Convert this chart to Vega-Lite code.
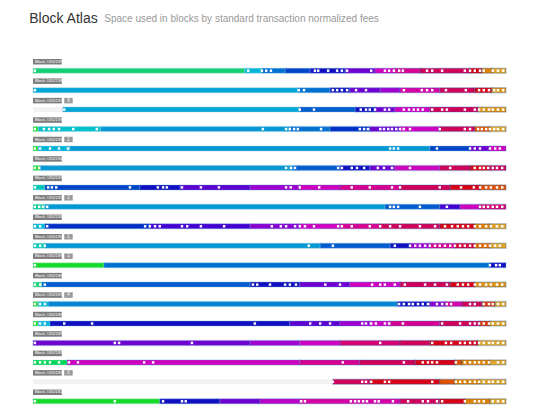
{
"$schema": "https://vega.github.io/schema/vega-lite/v6.json",
"width": 473, "height": 350,
"autosize": {"type": "none"},
"padding": {"left": 33, "top": 61, "right": 34, "bottom": 0},
"background": "white",
"config": {"view": {"stroke": null}, "font": "Liberation Sans"},
"title": {"text": "Block Atlas", "subtitle": "\u200b\u00a0\u00a0\u00a0\u00a0\u00a0\u00a0\u00a0\u00a0\u00a0\u00a0\u00a0\u00a0\u00a0\u00a0\u00a0\u00a0\u00a0\u00a0\u00a0\u00a0\u00a0\u00a0\u00a0\u00a0\u00a0\u00a0\u00a0Space used in blocks by standard transaction normalized fees", "anchor": "start", "fontSize": 14, "fontWeight": "normal", "color": "#333333", "subtitleFontSize": 10, "subtitleColor": "#999999", "subtitlePadding": -12, "offset": 33, "dx": -3},
"datasets": {
"gaps": [{"b": "452197", "s": 0, "e": 63}, {"b": "452183", "s": 0, "e": 634}],
"seg": [
{"b":"452199","s":0,"e":448,"l":1},{"b":"452199","s":448,"e":484,"l":3},{"b":"452199","s":484,"e":533,"l":5},{"b":"452199","s":533,"e":586,"l":6},{"b":"452199","s":586,"e":660,"l":7},{"b":"452199","s":660,"e":723,"l":9},{"b":"452199","s":723,"e":765,"l":11},{"b":"452199","s":765,"e":818,"l":12},{"b":"452199","s":818,"e":924,"l":13},{"b":"452199","s":924,"e":949,"l":14},{"b":"452199","s":949,"e":970,"l":16},{"b":"452199","s":970,"e":1000,"l":17},
{"b":"452198","s":0,"e":560,"l":3.5},{"b":"452198","s":560,"e":628,"l":5},{"b":"452198","s":628,"e":670,"l":7},{"b":"452198","s":670,"e":734,"l":9},{"b":"452198","s":734,"e":776,"l":10},{"b":"452198","s":776,"e":860,"l":11.5},{"b":"452198","s":860,"e":934,"l":13},{"b":"452198","s":934,"e":970,"l":14},{"b":"452198","s":970,"e":1000,"l":16.5},
{"b":"452197","s":63,"e":564,"l":3.5},{"b":"452197","s":564,"e":681,"l":5.5},{"b":"452197","s":681,"e":723,"l":7},{"b":"452197","s":723,"e":765,"l":9},{"b":"452197","s":765,"e":839,"l":11},{"b":"452197","s":839,"e":941,"l":13},{"b":"452197","s":941,"e":1000,"l":16.5},
{"b":"452196","s":0,"e":11,"l":0},{"b":"452196","s":11,"e":143,"l":2.5},{"b":"452196","s":143,"e":543,"l":4},{"b":"452196","s":543,"e":628,"l":5},{"b":"452196","s":628,"e":712,"l":6.5},{"b":"452196","s":712,"e":776,"l":9},{"b":"452196","s":776,"e":860,"l":11},{"b":"452196","s":860,"e":934,"l":13},{"b":"452196","s":934,"e":966,"l":15},{"b":"452196","s":966,"e":1000,"l":17},
{"b":"452195","s":0,"e":11,"l":0},{"b":"452195","s":11,"e":78,"l":3},{"b":"452195","s":78,"e":839,"l":4},{"b":"452195","s":839,"e":924,"l":6},{"b":"452195","s":924,"e":966,"l":9},{"b":"452195","s":966,"e":1000,"l":11},
{"b":"452194","s":0,"e":15,"l":0},{"b":"452194","s":15,"e":550,"l":4},{"b":"452194","s":550,"e":649,"l":5.5},{"b":"452194","s":649,"e":712,"l":7},{"b":"452194","s":712,"e":765,"l":9},{"b":"452194","s":765,"e":860,"l":11},{"b":"452194","s":860,"e":924,"l":13},{"b":"452194","s":924,"e":966,"l":14},{"b":"452194","s":966,"e":1000,"l":13},
{"b":"452193","s":0,"e":25,"l":2},{"b":"452193","s":25,"e":226,"l":6},{"b":"452193","s":226,"e":311,"l":7},{"b":"452193","s":311,"e":459,"l":8.5},{"b":"452193","s":459,"e":564,"l":10},{"b":"452193","s":564,"e":649,"l":11},{"b":"452193","s":649,"e":776,"l":12},{"b":"452193","s":776,"e":882,"l":13},{"b":"452193","s":882,"e":945,"l":14},{"b":"452193","s":945,"e":1000,"l":15},
{"b":"452192","s":0,"e":25,"l":1.5},{"b":"452192","s":25,"e":744,"l":4},{"b":"452192","s":744,"e":860,"l":5.5},{"b":"452192","s":860,"e":903,"l":8},{"b":"452192","s":903,"e":945,"l":11},{"b":"452192","s":945,"e":1000,"l":12.5},
{"b":"452191","s":0,"e":25,"l":3},{"b":"452191","s":25,"e":247,"l":6.5},{"b":"452191","s":247,"e":459,"l":8},{"b":"452191","s":459,"e":564,"l":9.5},{"b":"452191","s":564,"e":649,"l":11},{"b":"452191","s":649,"e":734,"l":12},{"b":"452191","s":734,"e":860,"l":13},{"b":"452191","s":860,"e":934,"l":14},{"b":"452191","s":934,"e":966,"l":16},{"b":"452191","s":966,"e":1000,"l":17},
{"b":"452190","s":0,"e":25,"l":2},{"b":"452190","s":25,"e":607,"l":4},{"b":"452190","s":607,"e":755,"l":5.5},{"b":"452190","s":755,"e":797,"l":7},{"b":"452190","s":797,"e":839,"l":10},{"b":"452190","s":839,"e":892,"l":12},{"b":"452190","s":892,"e":934,"l":13.5},{"b":"452190","s":934,"e":966,"l":15.5},{"b":"452190","s":966,"e":1000,"l":17},
{"b":"452189","s":0,"e":150,"l":0},{"b":"452189","s":150,"e":966,"l":5},{"b":"452189","s":966,"e":1000,"l":7},
{"b":"452188","s":0,"e":19,"l":1},{"b":"452188","s":19,"e":459,"l":5.5},{"b":"452188","s":459,"e":564,"l":7},{"b":"452188","s":564,"e":670,"l":9},{"b":"452188","s":670,"e":776,"l":11},{"b":"452188","s":776,"e":882,"l":13},{"b":"452188","s":882,"e":934,"l":14},{"b":"452188","s":934,"e":1000,"l":16.5},
{"b":"452187","s":0,"e":11,"l":0},{"b":"452187","s":11,"e":32,"l":3},{"b":"452187","s":32,"e":770,"l":4.5},{"b":"452187","s":770,"e":839,"l":7},{"b":"452187","s":839,"e":871,"l":9.5},{"b":"452187","s":871,"e":907,"l":11.5},{"b":"452187","s":907,"e":949,"l":13},{"b":"452187","s":949,"e":977,"l":14.5},{"b":"452187","s":977,"e":1000,"l":17},
{"b":"452186","s":0,"e":11,"l":0},{"b":"452186","s":11,"e":36,"l":3},{"b":"452186","s":36,"e":543,"l":7},{"b":"452186","s":543,"e":649,"l":8.5},{"b":"452186","s":649,"e":712,"l":10},{"b":"452186","s":712,"e":755,"l":11},{"b":"452186","s":755,"e":860,"l":12},{"b":"452186","s":860,"e":945,"l":13},{"b":"452186","s":945,"e":966,"l":14.5},{"b":"452186","s":966,"e":1000,"l":17},
{"b":"452185","s":0,"e":459,"l":9},{"b":"452185","s":459,"e":564,"l":10},{"b":"452185","s":564,"e":649,"l":11},{"b":"452185","s":649,"e":776,"l":12.5},{"b":"452185","s":776,"e":839,"l":13},{"b":"452185","s":839,"e":941,"l":14},{"b":"452185","s":941,"e":1000,"l":17},
{"b":"452184","s":0,"e":72,"l":0.5},{"b":"452184","s":72,"e":564,"l":11},{"b":"452184","s":564,"e":691,"l":12},{"b":"452184","s":691,"e":808,"l":13},{"b":"452184","s":808,"e":892,"l":14},{"b":"452184","s":892,"e":907,"l":15},{"b":"452184","s":907,"e":966,"l":16},{"b":"452184","s":966,"e":1000,"l":17},
{"b":"452183","s":634,"e":712,"l":13},{"b":"452183","s":712,"e":860,"l":14},{"b":"452183","s":860,"e":892,"l":15},{"b":"452183","s":892,"e":945,"l":16},{"b":"452183","s":945,"e":1000,"l":17},
{"b":"452182","s":0,"e":268,"l":0},{"b":"452182","s":268,"e":395,"l":7},{"b":"452182","s":395,"e":480,"l":9},{"b":"452182","s":480,"e":564,"l":10.5},{"b":"452182","s":564,"e":776,"l":11.5},{"b":"452182","s":776,"e":860,"l":13},{"b":"452182","s":860,"e":913,"l":14},{"b":"452182","s":913,"e":966,"l":16},{"b":"452182","s":966,"e":1000,"l":17}
],
"dots": [
{"b":"452199","v":4},{"b":"452199","v":455},{"b":"452199","v":484},{"b":"452199","v":493},{"b":"452199","v":503},{"b":"452199","v":596},{"b":"452199","v":603},{"b":"452199","v":624},{"b":"452199","v":643},{"b":"452199","v":653},{"b":"452199","v":664},{"b":"452199","v":715},{"b":"452199","v":744},{"b":"452199","v":753},{"b":"452199","v":763},{"b":"452199","v":774},{"b":"452199","v":782},{"b":"452199","v":833},{"b":"452199","v":844},{"b":"452199","v":865},{"b":"452199","v":913},{"b":"452199","v":924},{"b":"452199","v":934},{"b":"452199","v":945},{"b":"452199","v":953},{"b":"452199","v":972},{"b":"452199","v":983},{"b":"452199","v":994},
{"b":"452198","v":4},{"b":"452198","v":562},{"b":"452198","v":573},{"b":"452198","v":634},{"b":"452198","v":643},{"b":"452198","v":653},{"b":"452198","v":664},{"b":"452198","v":683},{"b":"452198","v":704},{"b":"452198","v":784},{"b":"452198","v":822},{"b":"452198","v":833},{"b":"452198","v":844},{"b":"452198","v":873},{"b":"452198","v":915},{"b":"452198","v":943},{"b":"452198","v":953},{"b":"452198","v":964},{"b":"452198","v":975},{"b":"452198","v":983},{"b":"452198","v":994},
{"b":"452197","v":66},{"b":"452197","v":564},{"b":"452197","v":594},{"b":"452197","v":693},{"b":"452197","v":704},{"b":"452197","v":712},{"b":"452197","v":723},{"b":"452197","v":744},{"b":"452197","v":753},{"b":"452197","v":784},{"b":"452197","v":795},{"b":"452197","v":805},{"b":"452197","v":814},{"b":"452197","v":824},{"b":"452197","v":844},{"b":"452197","v":865},{"b":"452197","v":875},{"b":"452197","v":913},{"b":"452197","v":934},{"b":"452197","v":943},{"b":"452197","v":953},{"b":"452197","v":964},{"b":"452197","v":972},{"b":"452197","v":983},{"b":"452197","v":994},
{"b":"452196","v":4},{"b":"452196","v":23},{"b":"452196","v":34},{"b":"452196","v":44},{"b":"452196","v":55},{"b":"452196","v":85},{"b":"452196","v":135},{"b":"452196","v":486},{"b":"452196","v":535},{"b":"452196","v":543},{"b":"452196","v":552},{"b":"452196","v":560},{"b":"452196","v":609},{"b":"452196","v":691},{"b":"452196","v":700},{"b":"452196","v":708},{"b":"452196","v":734},{"b":"452196","v":742},{"b":"452196","v":751},{"b":"452196","v":759},{"b":"452196","v":768},{"b":"452196","v":776},{"b":"452196","v":784},{"b":"452196","v":797},{"b":"452196","v":860},{"b":"452196","v":913},{"b":"452196","v":924},{"b":"452196","v":941},{"b":"452196","v":949},{"b":"452196","v":958},{"b":"452196","v":966},{"b":"452196","v":975},{"b":"452196","v":983},{"b":"452196","v":994},
{"b":"452195","v":4},{"b":"452195","v":15},{"b":"452195","v":36},{"b":"452195","v":55},{"b":"452195","v":74},{"b":"452195","v":755},{"b":"452195","v":763},{"b":"452195","v":772},{"b":"452195","v":854},{"b":"452195","v":924},{"b":"452195","v":934},{"b":"452195","v":945},{"b":"452195","v":966},{"b":"452195","v":977},{"b":"452195","v":987},
{"b":"452194","v":4},{"b":"452194","v":13},{"b":"452194","v":535},{"b":"452194","v":545},{"b":"452194","v":554},{"b":"452194","v":645},{"b":"452194","v":653},{"b":"452194","v":674},{"b":"452194","v":685},{"b":"452194","v":700},{"b":"452194","v":729},{"b":"452194","v":742},{"b":"452194","v":759},{"b":"452194","v":797},{"b":"452194","v":882},{"b":"452194","v":934},{"b":"452194","v":945},{"b":"452194","v":953},{"b":"452194","v":962},{"b":"452194","v":972},{"b":"452194","v":981},{"b":"452194","v":992},
{"b":"452193","v":4},{"b":"452193","v":32},{"b":"452193","v":40},{"b":"452193","v":49},{"b":"452193","v":205},{"b":"452193","v":264},{"b":"452193","v":275},{"b":"452193","v":283},{"b":"452193","v":315},{"b":"452193","v":355},{"b":"452193","v":393},{"b":"452193","v":535},{"b":"452193","v":545},{"b":"452193","v":564},{"b":"452193","v":605},{"b":"452193","v":674},{"b":"452193","v":712},{"b":"452193","v":759},{"b":"452193","v":776},{"b":"452193","v":860},{"b":"452193","v":905},{"b":"452193","v":932},{"b":"452193","v":945},{"b":"452193","v":958},{"b":"452193","v":968},{"b":"452193","v":981},{"b":"452193","v":992},
{"b":"452192","v":4},{"b":"452192","v":13},{"b":"452192","v":21},{"b":"452192","v":30},{"b":"452192","v":755},{"b":"452192","v":763},{"b":"452192","v":772},{"b":"452192","v":818},{"b":"452192","v":875},{"b":"452192","v":945},{"b":"452192","v":953},{"b":"452192","v":962},{"b":"452192","v":972},{"b":"452192","v":981},{"b":"452192","v":992},
{"b":"452191","v":4},{"b":"452191","v":15},{"b":"452191","v":30},{"b":"452191","v":237},{"b":"452191","v":247},{"b":"452191","v":258},{"b":"452191","v":268},{"b":"452191","v":315},{"b":"452191","v":326},{"b":"452191","v":355},{"b":"452191","v":404},{"b":"452191","v":505},{"b":"452191","v":524},{"b":"452191","v":535},{"b":"452191","v":554},{"b":"452191","v":564},{"b":"452191","v":575},{"b":"452191","v":594},{"b":"452191","v":645},{"b":"452191","v":653},{"b":"452191","v":674},{"b":"452191","v":712},{"b":"452191","v":734},{"b":"452191","v":755},{"b":"452191","v":776},{"b":"452191","v":818},{"b":"452191","v":850},{"b":"452191","v":871},{"b":"452191","v":886},{"b":"452191","v":898},{"b":"452191","v":909},{"b":"452191","v":920},{"b":"452191","v":934},{"b":"452191","v":945},{"b":"452191","v":958},{"b":"452191","v":968},{"b":"452191","v":981},{"b":"452191","v":992},
{"b":"452190","v":4},{"b":"452190","v":15},{"b":"452190","v":25},{"b":"452190","v":583},{"b":"452190","v":634},{"b":"452190","v":765},{"b":"452190","v":797},{"b":"452190","v":808},{"b":"452190","v":818},{"b":"452190","v":829},{"b":"452190","v":839},{"b":"452190","v":850},{"b":"452190","v":860},{"b":"452190","v":871},{"b":"452190","v":882},{"b":"452190","v":892},{"b":"452190","v":903},{"b":"452190","v":913},{"b":"452190","v":924},{"b":"452190","v":934},{"b":"452190","v":945},{"b":"452190","v":956},{"b":"452190","v":966},{"b":"452190","v":977},{"b":"452190","v":987},
{"b":"452189","v":4},{"b":"452189","v":966},{"b":"452189","v":979},{"b":"452189","v":987},
{"b":"452188","v":4},{"b":"452188","v":15},{"b":"452188","v":25},{"b":"452188","v":465},{"b":"452188","v":474},{"b":"452188","v":501},{"b":"452188","v":533},{"b":"452188","v":543},{"b":"452188","v":556},{"b":"452188","v":618},{"b":"452188","v":649},{"b":"452188","v":717},{"b":"452188","v":734},{"b":"452188","v":744},{"b":"452188","v":765},{"b":"452188","v":786},{"b":"452188","v":829},{"b":"452188","v":850},{"b":"452188","v":875},{"b":"452188","v":898},{"b":"452188","v":909},{"b":"452188","v":920},{"b":"452188","v":934},{"b":"452188","v":945},{"b":"452188","v":958},{"b":"452188","v":968},{"b":"452188","v":981},{"b":"452188","v":992},
{"b":"452187","v":4},{"b":"452187","v":15},{"b":"452187","v":25},{"b":"452187","v":774},{"b":"452187","v":784},{"b":"452187","v":795},{"b":"452187","v":803},{"b":"452187","v":814},{"b":"452187","v":824},{"b":"452187","v":835},{"b":"452187","v":854},{"b":"452187","v":865},{"b":"452187","v":875},{"b":"452187","v":884},{"b":"452187","v":924},{"b":"452187","v":934},{"b":"452187","v":953},{"b":"452187","v":964},{"b":"452187","v":972},{"b":"452187","v":983},{"b":"452187","v":994},
{"b":"452186","v":4},{"b":"452186","v":15},{"b":"452186","v":25},{"b":"452186","v":66},{"b":"452186","v":125},{"b":"452186","v":469},{"b":"452186","v":586},{"b":"452186","v":607},{"b":"452186","v":628},{"b":"452186","v":696},{"b":"452186","v":704},{"b":"452186","v":715},{"b":"452186","v":725},{"b":"452186","v":744},{"b":"452186","v":753},{"b":"452186","v":782},{"b":"452186","v":865},{"b":"452186","v":903},{"b":"452186","v":924},{"b":"452186","v":934},{"b":"452186","v":943},{"b":"452186","v":953},{"b":"452186","v":964},{"b":"452186","v":972},{"b":"452186","v":983},{"b":"452186","v":994},
{"b":"452185","v":4},{"b":"452185","v":173},{"b":"452185","v":182},{"b":"452185","v":336},{"b":"452185","v":734},{"b":"452185","v":844},{"b":"452185","v":873},{"b":"452185","v":884},{"b":"452185","v":903},{"b":"452185","v":913},{"b":"452185","v":924},{"b":"452185","v":934},{"b":"452185","v":943},{"b":"452185","v":953},{"b":"452185","v":964},{"b":"452185","v":972},{"b":"452185","v":983},{"b":"452185","v":994},
{"b":"452184","v":4},{"b":"452184","v":15},{"b":"452184","v":25},{"b":"452184","v":36},{"b":"452184","v":55},{"b":"452184","v":76},{"b":"452184","v":95},{"b":"452184","v":235},{"b":"452184","v":254},{"b":"452184","v":655},{"b":"452184","v":784},{"b":"452184","v":824},{"b":"452184","v":835},{"b":"452184","v":844},{"b":"452184","v":854},{"b":"452184","v":894},{"b":"452184","v":913},{"b":"452184","v":924},{"b":"452184","v":934},{"b":"452184","v":943},{"b":"452184","v":953},{"b":"452184","v":964},{"b":"452184","v":983},{"b":"452184","v":994},
{"b":"452183","v":634},{"b":"452183","v":696},{"b":"452183","v":704},{"b":"452183","v":715},{"b":"452183","v":744},{"b":"452183","v":753},{"b":"452183","v":844},{"b":"452183","v":894},{"b":"452183","v":903},{"b":"452183","v":913},{"b":"452183","v":924},{"b":"452183","v":934},{"b":"452183","v":943},{"b":"452183","v":953},{"b":"452183","v":964},{"b":"452183","v":972},{"b":"452183","v":983},{"b":"452183","v":994},
{"b":"452182","v":4},{"b":"452182","v":173},{"b":"452182","v":275},{"b":"452182","v":315},{"b":"452182","v":323},{"b":"452182","v":567},{"b":"452182","v":575},{"b":"452182","v":672},{"b":"452182","v":681},{"b":"452182","v":689},{"b":"452182","v":698},{"b":"452182","v":706},{"b":"452182","v":723},{"b":"452182","v":731},{"b":"452182","v":761},{"b":"452182","v":793},{"b":"452182","v":824},{"b":"452182","v":835},{"b":"452182","v":854},{"b":"452182","v":865},{"b":"452182","v":913},{"b":"452182","v":934},{"b":"452182","v":943},{"b":"452182","v":953},{"b":"452182","v":972},{"b":"452182","v":983},{"b":"452182","v":994}
],
"labels": [
{"b":"452199","t":"Block #452199"},{"b":"452198","t":"Block #452198"},{"b":"452197","t":"Block #452197"},{"b":"452196","t":"Block #452196"},{"b":"452195","t":"Block #452195"},{"b":"452194","t":"Block #452194"},{"b":"452193","t":"Block #452193"},{"b":"452192","t":"Block #452192"},{"b":"452191","t":"Block #452191"},{"b":"452190","t":"Block #452190"},{"b":"452189","t":"Block #452189"},{"b":"452188","t":"Block #452188"},{"b":"452187","t":"Block #452187"},{"b":"452186","t":"Block #452186"},{"b":"452185","t":"Block #452185"},{"b":"452184","t":"Block #452184"},{"b":"452183","t":"Block #452183"},{"b":"452182","t":"Block #452182"}
],
"badges": [
{"b":"452197","n":"9"},{"b":"452195","n":"1"},{"b":"452192","n":"1"},{"b":"452190","n":"1"},{"b":"452189","n":"1"},{"b":"452187","n":"4"},{"b":"452183","n":"0"}
]
},
"encoding": {
"y": {"field": "b", "type": "ordinal", "sort": "descending", "axis": null, "scale": {"paddingInner": 0, "paddingOuter": 0}}
},
"layer": [
{"data": {"name": "gaps"}, "mark": {"type": "bar", "height": 5, "color": "#f2f2f2"},
 "encoding": {"x": {"field": "s", "type": "quantitative", "scale": {"domain": [0, 1000], "nice": false, "zero": false}, "axis": null}, "x2": {"field": "e"}}},
{"data": {"name": "seg"}, "mark": {"type": "bar", "height": 5, "strokeWidth": 1.5, "strokeOpacity": 0.25},
 "encoding": {"x": {"field": "s", "type": "quantitative"}, "x2": {"field": "e"},
  "color": {"field": "l", "type": "quantitative", "legend": null, "scale": {"domain": [0,1,2,3,4,5,6,7,8,9,10,11,12,13,14,15,16,17], "range": ["#14dc28","#14d074","#00c8b4","#00b6d8","#0098d4","#0070d0","#0044c8","#1010c0","#4400d0","#7000d0","#a000d0","#d000c0","#d80090","#d00058","#d80014","#e05000","#e08000","#e0a428"]}},
  "stroke": {"field": "l", "type": "quantitative", "legend": null}}},
{"data": {"name": "dots"}, "mark": {"type": "square", "size": 6, "color": "white", "opacity": 1},
 "encoding": {"x": {"field": "v", "type": "quantitative"}}},
{"data": {"name": "labels"}, "mark": {"type": "bar", "height": 5.5, "yOffset": -9, "color": "#7c7c7c"},
 "encoding": {"x": {"datum": 0}, "x2": {"datum": 61}}},
{"data": {"name": "badges"}, "mark": {"type": "bar", "height": 5.5, "yOffset": -9, "color": "#999999"},
 "encoding": {"x": {"datum": 66}, "x2": {"datum": 84}}},
{"data": {"name": "labels"}, "mark": {"type": "text", "fontSize": 4.2, "color": "white", "align": "left", "baseline": "middle", "yOffset": -9},
 "encoding": {"x": {"datum": 4}, "text": {"field": "t"}}},
{"data": {"name": "badges"}, "mark": {"type": "text", "fontSize": 4.5, "color": "white", "align": "center", "baseline": "middle", "yOffset": -9},
 "encoding": {"x": {"datum": 75}, "text": {"field": "n"}}}
]
}
